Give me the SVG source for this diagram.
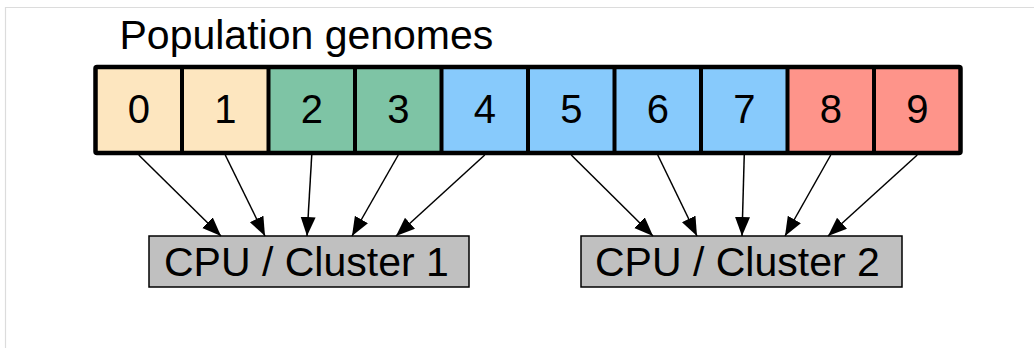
<svg xmlns="http://www.w3.org/2000/svg" width="1034" height="348" viewBox="0 0 1034 348">
  <style>
    text { font-family: "Liberation Sans", Arial, Helvetica, sans-serif; fill: #000; }
    .title { font-size: 41px; }
    .digit { font-size: 40px; text-anchor: middle; }
    .label { font-size: 41px; }
    .peach { fill: #fde6bf; }
    .green { fill: #7ec4a5; }
    .blue { fill: #87cafc; }
    .red { fill: #fe948a; }
    .divider { stroke: #000; stroke-width: 4; }
    .cpu { fill: #c0c0c0; stroke: #000; stroke-width: 1.5; }
    .edge { stroke: #000; stroke-width: 1.5; fill: none; marker-end: url(#arrow); }
  </style>
  <defs>
    <marker id="arrow" markerUnits="userSpaceOnUse" markerWidth="21" markerHeight="16" refX="19" refY="7.5" orient="auto">
      <path d="M0,0 L19,7.5 L0,15 z" fill="#000"/>
    </marker>
  </defs>

  <rect width="1034" height="348" fill="#fff"/>
  <!-- page frame -->
  <path d="M5.5,348 V7.5 H1034" fill="none" stroke="#dcdcdc" stroke-width="1.2"/>

  <text class="title" x="119.5" y="49">Population genomes</text>

  <!-- genome array -->
  <g id="genomes">
    <g id="cell-0"><rect class="peach" x="95.5" y="67" width="86.5" height="86"/><text class="digit" x="138.75" y="123">0</text></g>
    <g id="cell-1"><rect class="peach" x="182" y="67" width="86.5" height="86"/><text class="digit" x="225.25" y="123">1</text></g>
    <g id="cell-2"><rect class="green" x="268.5" y="67" width="86.5" height="86"/><text class="digit" x="311.75" y="123">2</text></g>
    <g id="cell-3"><rect class="green" x="355" y="67" width="86.5" height="86"/><text class="digit" x="398.25" y="123">3</text></g>
    <g id="cell-4"><rect class="blue" x="441.5" y="67" width="86.5" height="86"/><text class="digit" x="484.75" y="123">4</text></g>
    <g id="cell-5"><rect class="blue" x="528" y="67" width="86.5" height="86"/><text class="digit" x="571.25" y="123">5</text></g>
    <g id="cell-6"><rect class="blue" x="614.5" y="67" width="86.5" height="86"/><text class="digit" x="657.75" y="123">6</text></g>
    <g id="cell-7"><rect class="blue" x="701" y="67" width="86.5" height="86"/><text class="digit" x="744.25" y="123">7</text></g>
    <g id="cell-8"><rect class="red" x="787.5" y="67" width="86.5" height="86"/><text class="digit" x="830.75" y="123">8</text></g>
    <g id="cell-9"><rect class="red" x="874" y="67" width="86.5" height="86"/><text class="digit" x="917.25" y="123">9</text></g>
    <g id="cell-borders">
      <path class="divider" d="M182,67 V153 M268.5,67 V153 M355,67 V153 M441.5,67 V153 M528,67 V153 M614.5,67 V153 M701,67 V153 M787.5,67 V153 M874,67 V153"/>
      <rect x="95.5" y="67" width="865" height="86" rx="1.5" fill="none" stroke="#000" stroke-width="4.5"/>
    </g>
  </g>

  <g id="cluster-1">
    <rect class="cpu" x="149" y="236" width="320" height="51"/>
    <text class="label" x="164" y="276">CPU / Cluster 1</text>
  </g>

  <g id="cluster-2">
    <rect class="cpu" x="581" y="236" width="321" height="51"/>
    <text class="label" x="595" y="276">CPU / Cluster 2</text>
  </g>

  <g id="connectors">
    <line class="edge" x1="138.75" y1="155" x2="221" y2="236"/>
    <line class="edge" x1="225.25" y1="155" x2="265" y2="236"/>
    <line class="edge" x1="311.75" y1="155" x2="307" y2="236"/>
    <line class="edge" x1="398.25" y1="155" x2="352" y2="236"/>
    <line class="edge" x1="484.75" y1="155" x2="396" y2="236"/>
    <line class="edge" x1="571.25" y1="155" x2="653" y2="236"/>
    <line class="edge" x1="657.75" y1="155" x2="697" y2="236"/>
    <line class="edge" x1="744.25" y1="155" x2="742" y2="236"/>
    <line class="edge" x1="830.75" y1="155" x2="785" y2="236"/>
    <line class="edge" x1="917.25" y1="155" x2="828" y2="236"/>
  </g>
</svg>
